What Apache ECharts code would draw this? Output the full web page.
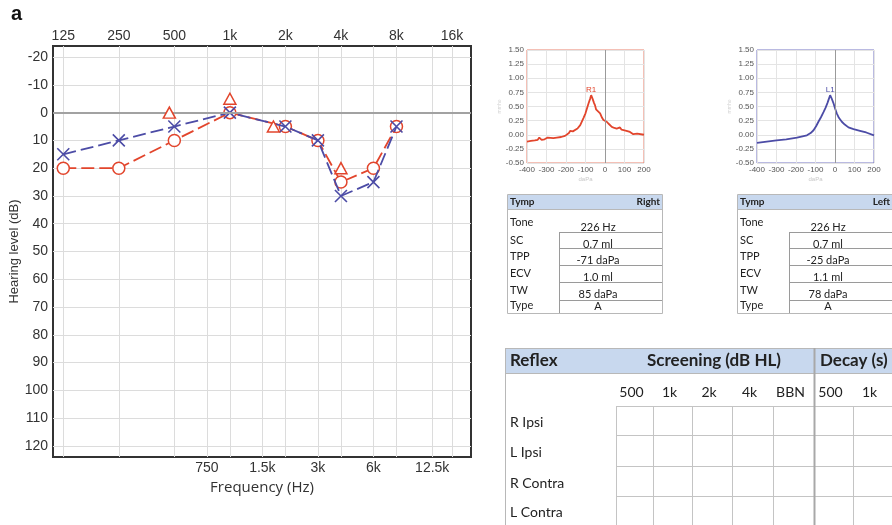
<!DOCTYPE html>
<html>
<head>
<meta charset="utf-8">
<script src="https://cdn.jsdelivr.net/npm/echarts@6/dist/echarts.min.js"></script>
<style>
  html, body { margin: 0; padding: 0; background: #fff; }
  #chart { width: 892px; height: 525px; }
</style>
</head>
<body>
<div id="chart"></div>
<script>
// ---- Audiogram data (dB HL) ----
const freqHz = [125, 250, 500, 1000, 2000, 3000, 4000, 6000, 8000];
const rightAirDb = [20, 20, 10, 0, 5, 10, 25, 20, 5];
const leftAirDb = [15, 10, 5, 0, 5, 10, 30, 25, 5];
const maskedFreqHz = [500, 1000, 2000, 4000];
const maskedDb = [0, -5, 5, 20];
const maskedShiftPx = [-5, 0, -12, 0];

const octaveFreqs = [125, 250, 500, 1000, 2000, 4000, 8000, 16000];
const octaveLabels = ['125', '250', '500', '1k', '2k', '4k', '8k', '16k'];
const midFreqs = [750, 1500, 3000, 6000, 12500];
const midLabels = ['750', '1.5k', '3k', '6k', '12.5k'];
const levelTicks = [-20, -10, 0, 10, 20, 30, 40, 50, 60, 70, 80, 90, 100, 110, 120];

// ---- Tympanograms (daPa vs admittance) ----
const rightTympDaPa = [-400, -380, -360, -345, -337, -325, -310, -294, -285, -265, -247, -225, -205, -195, -185, -178, -165, -155, -141, -127, -118, -110, -100, -93, -85, -76, -71, -64, -56, -51, -46, -42, -36, -25, -15, -8, 0, 9, 20, 35, 48, 60, 70, 77, 85, 94, 110, 128, 138, 145, 165, 200];
const rightTympMmho = [-0.12, -0.11, -0.10, -0.09, -0.05, -0.09, -0.08, -0.05, -0.07, -0.06, -0.05, -0.04, -0.02, -0.01, 0.03, 0.07, 0.06, 0.09, 0.11, 0.17, 0.19, 0.30, 0.38, 0.46, 0.55, 0.64, 0.70, 0.64, 0.56, 0.52, 0.45, 0.48, 0.42, 0.38, 0.30, 0.26, 0.25, 0.23, 0.19, 0.14, 0.12, 0.11, 0.10, 0.13, 0.09, 0.08, 0.07, 0.05, 0.04, 0.01, 0.02, 0.00];
const leftTympDaPa = [-400, -350, -300, -250, -195, -144, -125, -110, -97, -85, -72, -59, -48, -39, -31, -25, -18, -8, 0, 9, 20, 35, 50, 69, 95, 128, 160, 200];
const leftTympMmho = [-0.145, -0.12, -0.10, -0.08, -0.05, -0.01, 0.03, 0.08, 0.15, 0.23, 0.31, 0.40, 0.48, 0.56, 0.64, 0.70, 0.65, 0.56, 0.47, 0.38, 0.30, 0.23, 0.18, 0.13, 0.10, 0.07, 0.04, -0.01];
const rightPeak = [-71, 0.70];
const leftPeak = [-25, 0.70];

// ---- Tables ----
const tympRows = ['Tone', 'SC', 'TPP', 'ECV', 'TW', 'Type'];
const rightTympValues = ['226 Hz', '0.7 ml', '-71 daPa', '1.0 ml', '85 daPa', 'A'];
const leftTympValues = ['226 Hz', '0.7 ml', '-25 daPa', '1.1 ml', '78 daPa', 'A'];
const reflexCols = ['500', '1k', '2k', '4k', 'BBN', '500', '1k'];
const reflexRows = ['R Ipsi', 'L Ipsi', 'R Contra', 'L Contra'];

const RED = '#e2452c';
const BLUE = '#4c4ca6';
const SANS = 'Liberation Sans';
const UI = 'Lato';

// frequency -> octaves above 125 Hz (the audiogram x scale)
const oct = f => Math.log2(f / 125);
const labelAt = (v, freqs, labels) => {
  let best = 0;
  freqs.forEach((f, i) => { if (Math.abs(oct(f) - v) < Math.abs(oct(freqs[best]) - v)) best = i; });
  return labels[best];
};
const gridOct = octaveFreqs.concat(midFreqs).map(oct).sort((a, b) => a - b);

// ---- Static table drawing ----
const g = [];
const rect = (x, y, w, h, fill, stroke, lw) => g.push({
  type: 'rect', silent: true, shape: { x, y, width: w, height: h },
  style: { fill: fill || 'none', stroke: stroke || 'none', lineWidth: lw || 1 }
});
const line = (x1, y1, x2, y2, stroke, lw) => g.push({
  type: 'line', silent: true, shape: { x1, y1, x2, y2 },
  style: { stroke, lineWidth: lw || 1 }
});
const text = (x, y, t, font, align, fill) => g.push({
  type: 'text', silent: true, x, y,
  style: { text: t, font, fill: fill || '#222', align: align || 'left', verticalAlign: 'middle',
           textAlign: align || 'left', textVerticalAlign: 'middle' }
});

const HEAD_BLUE = '#c8d8ee';
function tympTable(x0, values, side) {
  rect(x0 + 0.5, 194.5, 155, 119, '#fff', '#b8b8b8');
  rect(x0 + 1, 195, 154, 14.5, HEAD_BLUE);
  line(x0 + 0.5, 209.5, x0 + 155.5, 209.5, '#b8b8b8');
  text(x0 + 3, 202, 'Tymp', 'bold 10px ' + UI);
  text(x0 + 153, 202, side, 'bold 10px ' + UI, 'right');
  const bottoms = [232, 248, 265, 282, 300];
  bottoms.forEach(y => line(x0 + 52, y + 0.5, x0 + 155, y + 0.5, '#9a9a9a'));
  line(x0 + 52.5, 232, x0 + 52.5, 313, '#9a9a9a');
  const labelY = [222, 240, 256, 273, 290, 305];
  const valueY = [227, 244, 260, 277, 294, 306];
  tympRows.forEach((r, i) => text(x0 + 3, labelY[i], r, '11px ' + UI));
  values.forEach((v, i) => text(x0 + 91, valueY[i], v, '11px ' + UI, 'center'));
}
tympTable(507, rightTympValues, 'Right');
tympTable(737, leftTympValues, 'Left');

// reflex table
rect(505, 348, 400, 25, HEAD_BLUE);
line(505, 348.5, 892, 348.5, '#b8b8b8');
line(505.5, 348, 505.5, 525, '#b8b8b8');
line(505, 373.5, 892, 373.5, '#b8b8b8');
const colX = [616, 653, 692, 732, 773, 814, 853, 892];
const rowY = [406, 435, 466, 496, 525];
colX.forEach(x => line(x + 0.5, 406, x + 0.5, 525, '#c4c4c4'));
rowY.forEach(y => line(616, y + 0.5, 892, y + 0.5, '#c4c4c4'));
line(814.5, 348, 814.5, 525, '#a8a8a8', 2);
text(510, 361, 'Reflex', 'bold 17px ' + UI);
text(714, 361, 'Screening (dB HL)', 'bold 17px ' + UI, 'center');
text(820, 361, 'Decay (s)', 'bold 17px ' + UI);
reflexCols.forEach((c, i) => text((colX[i] + colX[i + 1]) / 2 - 3, 392, c, '14px ' + UI, 'center'));
reflexRows.forEach((r, i) => text(510, (rowY[i] + rowY[i + 1]) / 2 + 2, r, '14px ' + UI));

// panel letter
g.push({ type: 'text', silent: true, x: 11, y: 4,
  style: { text: 'a', font: 'bold 20px ' + SANS, fill: '#111' } });

// ---- Axes helpers ----
const tympX = (gi) => ({
  gridIndex: gi, type: 'value', min: -400, max: 200, interval: 100,
  axisLine: { show: false }, axisTick: { show: false },
  splitLine: { show: true, lineStyle: { color: '#e4e4e4' } },
  axisLabel: { fontSize: 8, color: '#555', margin: 3, fontFamily: SANS },
  name: 'daPa', nameLocation: 'middle', nameGap: 13,
  nameTextStyle: { fontSize: 6, color: '#c8c8c8', fontFamily: SANS }
});
const tympY = gi => ({
  gridIndex: gi, type: 'value', min: -0.5, max: 1.5, interval: 0.25,
  axisLine: { show: false }, axisTick: { show: false },
  splitLine: { show: true, lineStyle: { color: '#e4e4e4' } },
  axisLabel: { fontSize: 8, color: '#555', margin: 3, fontFamily: SANS, formatter: v => v.toFixed(2) },
  name: 'mmho', nameLocation: 'middle', nameGap: 25,
  nameTextStyle: { fontSize: 5, color: '#d4d4d4', fontFamily: SANS }
});
const tympSeries = (gi, px, py, color, peak, tag) => ({
  type: 'line', xAxisIndex: gi + 1, yAxisIndex: gi, showSymbol: false, silent: true,
  data: px.map((p, i) => [p, py[i]]),
  lineStyle: { color, width: 1.8 },
  markLine: { silent: true, symbol: 'none', label: { show: false },
    lineStyle: { color: '#9a9a9a', width: 1, type: 'solid' }, data: [{ xAxis: 0 }] },
  markPoint: { silent: true, symbol: 'circle', symbolSize: 0,
    label: { show: true, position: 'top', distance: 1, formatter: tag, color, fontSize: 8, fontFamily: SANS },
    data: [{ coord: peak }] }
});

const option = {
  animation: false,
  backgroundColor: '#fff',
  graphic: { elements: g },
  grid: [
    { left: 53, right: 421, top: 46, bottom: 68, show: true, borderColor: '#333', borderWidth: 2, backgroundColor: 'transparent' },
    { left: 527, right: 248, top: 50, bottom: 362, show: true, borderColor: '#e8806c', borderWidth: 1 },
    { left: 757, right: 18, top: 50, bottom: 362, show: true, borderColor: '#7474c2', borderWidth: 1 }
  ],
  xAxis: [
    { gridIndex: 0, type: 'value', position: 'top', min: -0.185, max: 7.342,
      axisLine: { show: false }, axisTick: { show: false, customValues: gridOct },
      splitLine: { show: true, lineStyle: { color: '#dcdcdc', width: 1 } },
      axisLabel: { customValues: octaveFreqs.map(oct), formatter: v => labelAt(v, octaveFreqs, octaveLabels),
        fontSize: 14, color: '#333', margin: 3, fontFamily: SANS } },
    { gridIndex: 0, type: 'value', position: 'bottom', min: -0.185, max: 7.342,
      axisLine: { show: false }, axisTick: { show: false, customValues: midFreqs.map(oct) },
      splitLine: { show: false },
      axisLabel: { customValues: midFreqs.map(oct), formatter: v => labelAt(v, midFreqs, midLabels),
        fontSize: 14, color: '#333', margin: 4, fontFamily: SANS },
      name: 'Frequency (Hz)', nameLocation: 'middle', nameGap: 22,
      nameTextStyle: { fontSize: 15, color: '#333', fontFamily: 'Open Sans' } },
    tympX(1),
    tympX(2)
  ],
  yAxis: [
    { gridIndex: 0, type: 'value', inverse: true, min: -24, max: 124,
      axisLine: { show: false }, axisTick: { show: false, customValues: levelTicks },
      splitLine: { show: true, lineStyle: { color: '#dcdcdc', width: 1 } },
      axisLabel: { customValues: levelTicks, fontSize: 14, color: '#333', margin: 5, fontFamily: SANS },
      name: 'Hearing level (dB)', nameLocation: 'middle', nameGap: 27,
      nameTextStyle: { fontSize: 13, color: '#333', fontFamily: SANS } },
    tympY(1),
    tympY(2)
  ],
  series: [
    { // 0 dB reference line
      type: 'line', xAxisIndex: 0, yAxisIndex: 0, data: [], z: 1, silent: true,
      markLine: { silent: true, symbol: 'none', label: { show: false },
        lineStyle: { color: '#a2a2a2', width: 2, type: 'solid' }, data: [{ yAxis: 0 }] }
    },
    { // right ear, air conduction
      type: 'line', xAxisIndex: 0, yAxisIndex: 0, z: 3, silent: true,
      data: freqHz.map((f, i) => [oct(f), rightAirDb[i]]),
      symbol: 'circle', symbolSize: 12,
      itemStyle: { color: '#fff', borderColor: RED, borderWidth: 1.5 },
      lineStyle: { color: RED, width: 1.8, type: [13, 5] }
    },
    { // left ear, air conduction
      type: 'line', xAxisIndex: 0, yAxisIndex: 0, z: 4, silent: true,
      data: freqHz.map((f, i) => [oct(f), leftAirDb[i]]),
      symbol: 'path://M0,0L10,10M10,0L0,10', symbolSize: 12,
      itemStyle: { color: 'none', borderColor: BLUE, borderWidth: 1.6 },
      lineStyle: { color: BLUE, width: 1.8, type: [13, 5] }
    },
    { // right ear, masked
      type: 'scatter', xAxisIndex: 0, yAxisIndex: 0, z: 5, silent: true,
      data: maskedFreqHz.map((f, i) => ({ value: [oct(f), maskedDb[i]], symbolOffset: [maskedShiftPx[i], 0] })),
      symbol: 'triangle', symbolSize: [12, 11],
      itemStyle: { color: '#fff', borderColor: RED, borderWidth: 1.5, opacity: 1 }
    },
    tympSeries(1, rightTympDaPa, rightTympMmho, RED, rightPeak, 'R1'),
    tympSeries(2, leftTympDaPa, leftTympMmho, BLUE, leftPeak, 'L1')
  ]
};

const chart = echarts.init(document.getElementById('chart'), null, { renderer: 'canvas' });
chart.setOption(option);
</script>
</body>
</html>
